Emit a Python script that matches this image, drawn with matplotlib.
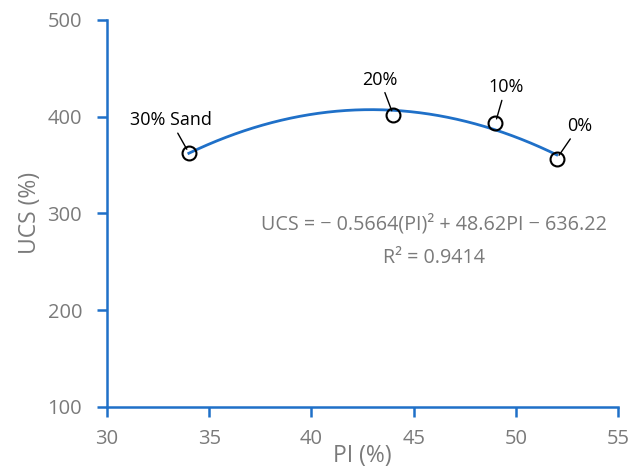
import numpy as np
import matplotlib.pyplot as plt

plt.rcParams['font.family'] = ['Open Sans', 'DejaVu Sans']

# measured points
pi_vals = [34, 44, 49, 52]
ucs_vals = [362.5, 402, 393.5, 356.5]
labels = ['30% Sand', '20%', '10%', '0%']
label_pos = [(33.1, 387), (43.35, 429), (49.5, 421), (53.1, 381)]

# trendline coefficients shown on the chart
coeffs = [-0.5664, 48.62, -636.22]
r2 = 0.9414

blue = '#1f70c8'
grey = '#7a7a7a'

fig = plt.figure(figsize=(6.3, 4.72), dpi=100)
ax = fig.add_axes([0.170, 0.138, 0.811, 0.820])

xs = np.linspace(min(pi_vals), max(pi_vals), 200)
ax.plot(xs, np.polyval(coeffs, xs), color=blue, lw=2, zorder=2)
ax.plot(pi_vals, ucs_vals, 'o', mfc='none', mec='black', ms=10, mew=1.5, zorder=3)

for x, y, lab, (tx, ty) in zip(pi_vals, ucs_vals, labels, label_pos):
    ax.annotate(lab, xy=(x, y), xytext=(tx, ty), fontsize=13, color='black',
                ha='center', va='bottom',
                arrowprops=dict(arrowstyle='-', color='black', lw=1,
                                shrinkA=1, shrinkB=3))

ax.text(46.0, 289, 'UCS = \u2212 0.5664(PI)\u00b2 + 48.62PI \u2212 636.22',
        color=grey, fontsize=14.2, ha='center', va='center')
ax.text(46.0, 254, 'R\u00b2 = %.4f' % r2, color=grey, fontsize=14.2,
        ha='center', va='center')

ax.set_xlim(30, 55)
ax.set_ylim(100, 500)
ax.set_xticks([30, 35, 40, 45, 50, 55])
ax.set_yticks([100, 200, 300, 400, 500])
for s in ['top', 'right']:
    ax.spines[s].set_visible(False)
for s in ['left', 'bottom']:
    ax.spines[s].set_color(blue)
    ax.spines[s].set_linewidth(1.8)
ax.tick_params(colors=blue, labelcolor=grey, labelsize=14.5, width=1.8,
               length=7, direction='out')
ax.tick_params(axis='x', pad=9)
ax.tick_params(axis='y', pad=11)
ax.set_xlabel('PI (%)', color=grey, fontsize=16.5, labelpad=-4)
ax.set_ylabel('UCS (%)', color=grey, fontsize=16.5, labelpad=4)

fig.savefig('out.png', dpi=100)
